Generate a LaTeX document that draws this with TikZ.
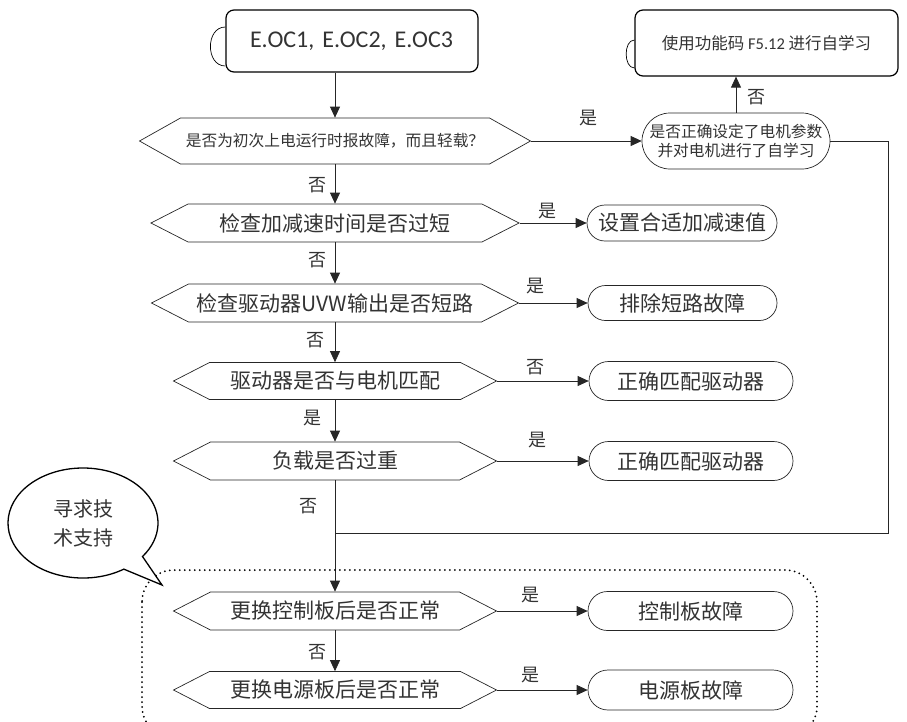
\documentclass[tikz,border=0pt]{standalone}
\usepackage{fontspec}
\setmainfont{Noto Sans CJK SC}
\newfontfamily\latinf{Carlito}
\usetikzlibrary{shapes.symbols,shapes.misc,arrows.meta}
\begin{document}
\begin{tikzpicture}[x=1pt,y=-1pt,
  every node/.style={text=black!80},
  line/.style={draw=black!85, line width=0.8pt},
  arr/.style={line, -{Triangle[length=11pt,width=10pt]}},
  hexbox/.style={signal, signal to=west and east, draw=black!85, line width=0.7pt, inner sep=0pt, font=\fontsize{21}{24}\selectfont},
  res/.style={rounded rectangle, draw=black!85, line width=0.7pt, inner sep=0pt, font=\fontsize{21}{24}\selectfont},
  lbl/.style={font=\fontsize{18}{20}\selectfont},
  startbox/.style={rectangle, rounded corners=8pt, draw=black, line width=1.2pt}]
\useasboundingbox (0,0) rectangle (907,721);

% start
\node[startbox, minimum height=62pt, text width=204pt, inner xsep=24pt, align=left, font=\latinf\fontsize{24}{26}\selectfont] (S) at (352,41) {E.OC1, E.OC2, E.OC3};
\draw[line width=0.7pt] ([yshift=14pt]S.west) .. controls +(-20,0) and +(-20,0) .. ([yshift=-25pt]S.west);

% top right box
\node[startbox, minimum width=263pt, minimum height=66pt, inner sep=0pt, font=\fontsize{16.5}{18}\selectfont] (T) at (766.5,43) {使用功能码 {\latinf F5.12} 进行自学习};
\draw[line width=0.7pt] ([yshift=3pt]T.west) .. controls +(-11,0) and +(-11,0) .. ([yshift=-25pt]T.west);

% decisions
\node[hexbox, minimum width=391pt, minimum height=46pt, signal pointer angle=58.6, font=\fontsize{15.7}{18}\selectfont] (D1) at (335,141) {是否为初次上电运行时报故障，而且轻载？};
\node[hexbox, minimum width=368pt, minimum height=38pt, signal pointer angle=54.3] (D2) at (335,223) {检查加减速时间是否过短};
\node[hexbox, minimum width=367pt, minimum height=38pt, signal pointer angle=54.3] (D3) at (335,303) {检查驱动器UVW输出是否短路};
\node[hexbox, minimum width=323pt, minimum height=37pt, signal pointer angle=54.4] (D4) at (335,381) {驱动器是否与电机匹配};
\node[hexbox, minimum width=323pt, minimum height=38pt, signal pointer angle=54.4] (D5) at (335,461) {负载是否过重};
\node[hexbox, minimum width=323pt, minimum height=38pt, signal pointer angle=54.4] (D6) at (335,611) {更换控制板后是否正常};
\node[hexbox, minimum width=323pt, minimum height=37pt, signal pointer angle=54.4] (D7) at (335,690) {更换电源板后是否正常};

% results
\node[res, minimum width=188pt, minimum height=56pt, align=center, font=\fontsize{15.7}{19}\selectfont] (RQ) at (736,141) {是否正确设定了电机参数\\并对电机进行了自学习};
\node[res, minimum width=190pt, minimum height=36pt] (R2) at (682,223) {设置合适加减速值};
\node[res, minimum width=189pt, minimum height=35pt] (R3) at (682.5,303) {排除短路故障};
\node[res, minimum width=204pt, minimum height=39pt] (R4) at (691,381) {正确匹配驱动器};
\node[res, minimum width=204pt, minimum height=39pt] (R5) at (691,461) {正确匹配驱动器};
\node[res, minimum width=205pt, minimum height=39pt] (R6) at (690.5,611) {控制板故障};
\node[res, minimum width=205pt, minimum height=40pt] (R7) at (690.5,690) {电源板故障};

% connectors main
\draw[arr] (S.south -| D1.north) -- (D1.north);
\draw[arr] (D1.south) -- (D2.north);
\draw[arr] (D2.south) -- (D3.north);
\draw[arr] (D3.south) -- (D4.north);
\draw[arr] (D4.south) -- (D5.north);
\draw[arr] (D5.south) -- (D6.north);
\draw[arr] (D6.south) -- (D7.north);

% side connectors
\draw[arr] (D1.east) -- (RQ.west);
\draw[arr] (RQ.north) -- (RQ.north |- T.south);
\draw[arr] (D2.east) -- (R2.west);
\draw[arr] (D3.east) -- (R3.west);
\draw[arr] (D4.east) -- (R4.west);
\draw[arr] (D5.east) -- (R5.west);
\draw[arr] (D6.east) -- (R6.west);
\draw[arr] (D7.east) -- (R7.west);

% loop back
\coordinate (J) at (335,533);
\draw[line] (RQ.east) -- (888,141) -- (888,533) -- (J);

% labels
\node[lbl] (l1) at (588,118) {是};
\node[lbl] (l2) at (317,185) {否};
\node[lbl] (l3) at (547,211) {是};
\node[lbl] (l4) at (317,260) {否};
\node[lbl] (l5) at (535,286) {是};
\node[lbl] (l6) at (315,340) {否};
\node[lbl] (l7) at (535,367) {否};
\node[lbl] (l8) at (312,418) {是};
\node[lbl] (l9) at (537,440) {是};
\node[lbl] (l10) at (308,506) {否};
\node[lbl] (l11) at (530,595) {是};
\node[lbl] (l12) at (317,652) {否};
\node[lbl] (l13) at (530,675) {是};
\node[lbl] (l14) at (756,97) {否};

% dotted group
\draw[black, line width=2pt, line cap=round, dash pattern=on 0pt off 5pt, rounded corners=32pt] (142,570) rectangle (817,738);

% callout
\draw[black, line width=1.3pt, fill=white] (83,523) ++(57:75 and 55) arc[start angle=57, end angle=397.5, x radius=75, y radius=55] -- (162,585) -- cycle;
\node[align=center, font=\fontsize{20}{29}\selectfont] (C) at (83,523) {寻求技\\术支持};
\end{tikzpicture}
\end{document}
